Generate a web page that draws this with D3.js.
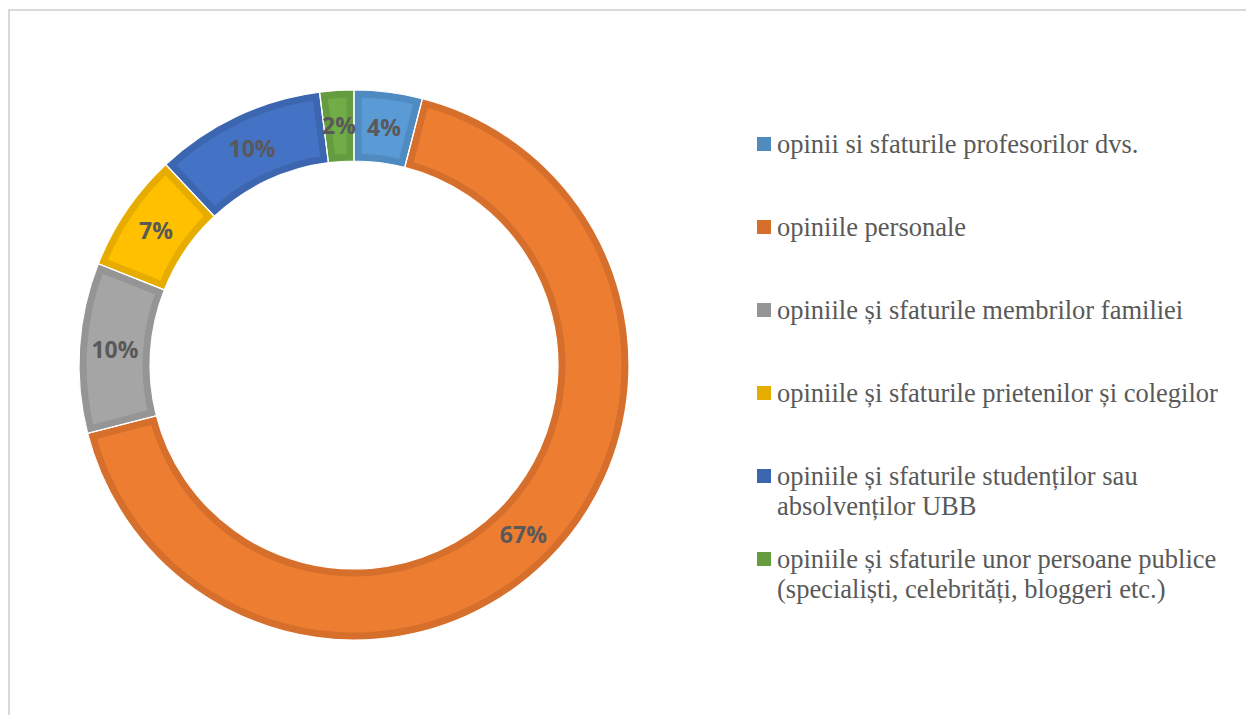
<!DOCTYPE html>
<html>
<head>
<meta charset="utf-8">
<script src="https://cdn.jsdelivr.net/npm/d3@7"></script>
<style>
  body { margin: 0; background: #fff; }
</style>
</head>
<body>
<div id="chart"></div>
<script>
// chart data
var categories = [
    "opinii si sfaturile profesorilor dvs.",
    "opiniile personale",
    "opiniile și sfaturile membrilor familiei",
    "opiniile și sfaturile prietenilor și colegilor",
    "opiniile și sfaturile studenților sau absolvenților UBB",
    "opiniile și sfaturile unor persoane publice (specialiști, celebrități, bloggeri etc.)"
];
var values = [4, 67, 10, 7, 10, 2];
var legendLines = [
    ["opinii si sfaturile profesorilor dvs."],
    ["opiniile personale"],
    ["opiniile și sfaturile membrilor familiei"],
    ["opiniile și sfaturile prietenilor și colegilor"],
    ["opiniile și sfaturile studenților sau", "absolvenților UBB"],
    ["opiniile și sfaturile unor persoane publice", "(specialiști, celebrități, bloggeri etc.)"]
];
var fills   = ["#5b9bd5", "#ed7d31", "#a5a5a5", "#ffc000", "#4472c4", "#70ad47"];
var borders = ["#4f8ac1", "#d66f2c", "#959595", "#e6ad00", "#3d66b0", "#659c40"];

var w = 1246, h = 715;
var cx = 354, cy = 365;
var outerR = 275, innerR = 204;

var svg = d3.select("#chart").append("svg")
    .attr("width", w)
    .attr("height", h);

// chart area frame (runs off the right / bottom edge)
svg.append("rect")
    .attr("x", 9).attr("y", 10)
    .attr("width", 1260).attr("height", 720)
    .attr("fill", "none")
    .attr("stroke", "#d9d9d9")
    .attr("stroke-width", 2);

var pie = d3.pie().sort(null).value(function(d) { return d; });
var arcs = pie(values);

var arc = d3.arc().innerRadius(innerR).outerRadius(outerR);

var g = svg.append("g").attr("transform", "translate(" + cx + "," + cy + ")");

var defs = svg.append("defs");
arcs.forEach(function(d, i) {
    defs.append("clipPath").attr("id", "clip" + i)
        .append("path").attr("d", arc(d));
});

// segments with inner darker border
g.selectAll("path.seg")
    .data(arcs)
    .enter()
    .append("path")
    .attr("class", "seg")
    .attr("d", arc)
    .attr("fill", function(d, i) { return fills[i]; })
    .attr("stroke", function(d, i) { return borders[i]; })
    .attr("stroke-width", 15)
    .attr("clip-path", function(d, i) { return "url(#clip" + i + ")"; });

// thin white separators
g.selectAll("path.sep")
    .data(arcs)
    .enter()
    .append("path")
    .attr("class", "sep")
    .attr("d", arc)
    .attr("fill", "none")
    .attr("stroke", "#fff")
    .attr("stroke-width", 1.2);

// data labels
g.selectAll("text.lbl")
    .data(arcs)
    .enter()
    .append("text")
    .attr("class", "lbl")
    .attr("transform", function(d) { return "translate(" + arc.centroid(d) + ")"; })
    .attr("text-anchor", "middle")
    .attr("dy", "0.36em")
    .attr("font-family", "'Open Sans', sans-serif")
    .attr("font-weight", "bold")
    .attr("font-size", 23)
    .attr("fill", "#595959")
    .text(function(d) { return d.data + "%"; });

// legend
var legendTop = 145, legendStep = 83, lineH = 30;
var legend = svg.append("g").attr("transform", "translate(757,0)");

var items = legend.selectAll("g.item")
    .data(categories)
    .enter()
    .append("g")
    .attr("class", "item")
    .attr("transform", function(d, i) { return "translate(0," + (legendTop + i * legendStep) + ")"; });

items.append("rect")
    .attr("x", 0).attr("y", -8)
    .attr("width", 14).attr("height", 14)
    .attr("fill", function(d, i) { return borders[i]; });

items.append("text")
    .attr("x", 20)
    .attr("y", 0)
    .attr("font-family", "'Liberation Serif', 'Times New Roman', serif")
    .attr("font-size", 26.5)
    .attr("fill", "#595959")
    .each(function(d, i) {
        var t = d3.select(this);
        legendLines[i].forEach(function(line, j) {
            t.append("tspan")
                .attr("x", 20)
                .attr("y", j * lineH)
                .attr("dy", "0.3em")
                .text(line);
        });
    });
</script>
</body>
</html>
